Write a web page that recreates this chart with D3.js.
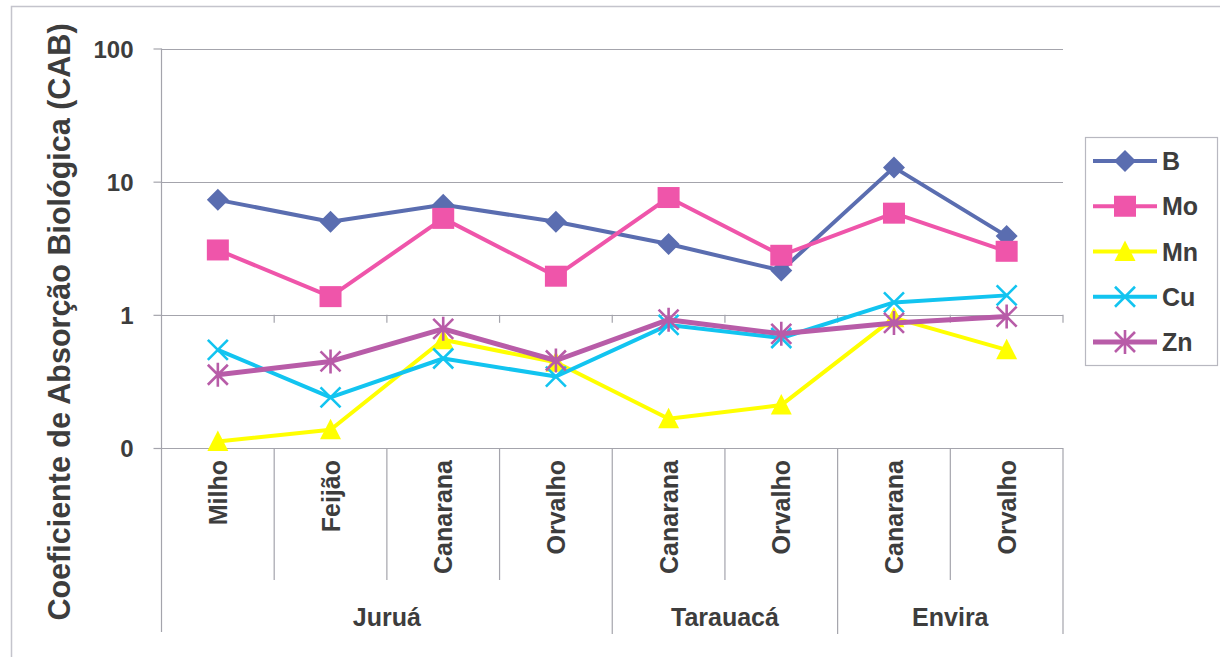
<!DOCTYPE html>
<html>
<head>
<meta charset="utf-8">
<script src="https://cdn.jsdelivr.net/npm/d3@7"></script>
<style>
  html, body { margin: 0; padding: 0; background: #fff; }
  svg { display: block; font-family: "Liberation Sans", Arial, sans-serif; }
</style>
</head>
<body>
<svg id="chart" width="1220" height="657"></svg>
<script>
// Categories (crop per site) and their site groups
const categories = ["Milho", "Feijão", "Canarana", "Orvalho", "Canarana", "Orvalho", "Canarana", "Orvalho"];
const groupNames = ["Juruá", "Tarauacá", "Envira"];
const groupSizes = [4, 2, 2];

// Biological absorption coefficient per element
const seriesNames = ["B", "Mo", "Mn", "Cu", "Zn"];
const valuesB  = [7.3, 5.0, 6.7, 5.0, 3.4, 2.15, 12.8, 3.9];
const valuesMo = [3.07, 1.37, 5.3, 1.95, 7.6, 2.8, 5.8, 3.0];
const valuesMn = [0.112, 0.137, 0.65, 0.44, 0.166, 0.21, 0.95, 0.546];
const valuesCu = [0.546, 0.24, 0.47, 0.344, 0.84, 0.67, 1.24, 1.4];
const valuesZn = [0.355, 0.447, 0.785, 0.454, 0.92, 0.72, 0.87, 0.97];

// Y axis ticks
const yTickValues = [0.1, 1, 10, 100];
const yTickLabels = ["0", "1", "10", "100"];

const seriesValues = [valuesB, valuesMo, valuesMn, valuesCu, valuesZn];
const colors = ["#5a6db0", "#ef55aa", "#ffff00", "#12c4f0", "#b85ca8"];
const markerKinds = ["diamond", "square", "triangle", "cross", "asterisk"];

const svg = d3.select("#chart");
const textColor = "#3d3d3d";
const gridColor = "#a4a4ac";

const plot = { left: 161.5, right: 1063, top: 48.5, bottom: 448 };

const x = d3.scaleBand()
  .domain(d3.range(categories.length))
  .range([plot.left, plot.right])
  .paddingInner(0).paddingOuter(0);

const y = d3.scaleLog()
  .domain([0.1, 100])
  .range([plot.bottom, plot.top]);

// outer chart frame
svg.append("rect")
  .attr("x", 11.5).attr("y", 6.5)
  .attr("width", 1240).attr("height", 700)
  .attr("fill", "none").attr("stroke", "#c4c4cc").attr("stroke-width", 1.5);

// horizontal gridlines + bottom edge
svg.append("g").selectAll("line")
  .data(yTickValues)
  .join("line")
  .attr("x1", plot.left).attr("x2", plot.right)
  .attr("y1", d => Math.round(y(d)) + 0.5).attr("y2", d => Math.round(y(d)) + 0.5)
  .attr("stroke", gridColor).attr("stroke-width", 1.2);

// y axis via d3.axisLeft
const yAxis = d3.axisLeft(y)
  .tickValues(yTickValues)
  .tickFormat((d, i) => yTickLabels[i])
  .tickSize(8)
  .tickPadding(20);

const gy = svg.append("g")
  .attr("transform", `translate(${plot.left},0)`)
  .call(yAxis);
gy.select(".domain").remove();
gy.selectAll(".tick line").attr("stroke", gridColor).attr("stroke-width", 1.2);
gy.selectAll(".tick text")
  .attr("fill", textColor)
  .style("font-size", "24px")
  .style("font-weight", "bold")
  .attr("dy", "0.36em");

// vertical axis line extending through the category label area
svg.append("line")
  .attr("x1", plot.left).attr("x2", plot.left)
  .attr("y1", plot.top).attr("y2", 632)
  .attr("stroke", gridColor).attr("stroke-width", 1.2);

// small tick marks on the axis crossing at 1
svg.append("g").selectAll("line")
  .data(d3.range(1, categories.length + 1))
  .join("line")
  .attr("x1", i => x.step() * i + plot.left).attr("x2", i => x.step() * i + plot.left)
  .attr("y1", y(1)).attr("y2", y(1) + 8)
  .attr("stroke", gridColor).attr("stroke-width", 1.2);

// category separators (multi-level axis)
const groupStarts = groupSizes.map((s, i) => d3.sum(groupSizes.slice(0, i)));
const groupBoundaries = new Set(groupStarts.concat([categories.length]));
svg.append("g").selectAll("line")
  .data(d3.range(1, categories.length + 1))
  .join("line")
  .attr("x1", i => plot.left + x.step() * i).attr("x2", i => plot.left + x.step() * i)
  .attr("y1", plot.bottom)
  .attr("y2", i => groupBoundaries.has(i) ? 634 : 580)
  .attr("stroke", gridColor).attr("stroke-width", 1.2);

// rotated crop labels
svg.append("g").selectAll("text")
  .data(categories)
  .join("text")
  .attr("transform", (d, i) => `translate(${x(i) + x.bandwidth() / 2 + 9},${460}) rotate(-90)`)
  .attr("text-anchor", "end")
  .attr("fill", textColor)
  .style("font-size", "25px")
  .style("font-weight", "bold")
  .text(d => d);

// site group labels
svg.append("g").selectAll("text")
  .data(groupNames)
  .join("text")
  .attr("x", (d, i) => {
    const a = x(groupStarts[i]);
    const b = x(groupStarts[i] + groupSizes[i] - 1) + x.bandwidth();
    return (a + b) / 2;
  })
  .attr("y", 626)
  .attr("text-anchor", "middle")
  .attr("fill", textColor)
  .style("font-size", "25px")
  .style("font-weight", "bold")
  .text(d => d);

// y axis title
svg.append("text")
  .attr("transform", `translate(70,322) rotate(-90)`)
  .attr("text-anchor", "middle")
  .attr("fill", textColor)
  .style("font-size", "30.5px")
  .style("font-weight", "bold")
  .text("Coeficiente de Absorção Biológica (CAB)");

// marker drawing
function drawMarker(sel, kind, color) {
  if (kind === "diamond") {
    sel.append("path").attr("d", "M0,-11L11,0L0,11L-11,0Z").attr("fill", color);
  } else if (kind === "square") {
    sel.append("rect").attr("x", -11).attr("y", -10.5).attr("width", 22).attr("height", 21).attr("fill", color);
  } else if (kind === "triangle") {
    sel.append("path").attr("d", "M0,-11L10.5,9.5L-10.5,9.5Z").attr("fill", color);
  } else if (kind === "cross") {
    sel.append("path").attr("d", "M-10,-10L10,10M-10,10L10,-10")
      .attr("stroke", color).attr("stroke-width", 2.6).attr("fill", "none");
  } else if (kind === "asterisk") {
    sel.append("path").attr("d", "M-10,-10L10,10M-10,10L10,-10M0,-12L0,12")
      .attr("stroke", color).attr("stroke-width", 2.6).attr("fill", "none");
  }
}

const line = d3.line()
  .x((d, i) => x(i) + x.bandwidth() / 2)
  .y(d => y(d));

seriesValues.forEach((vals, s) => {
  const g = svg.append("g");
  g.append("path")
    .datum(vals)
    .attr("d", line)
    .attr("fill", "none")
    .attr("stroke", colors[s])
    .attr("stroke-width", s === 4 ? 5 : 4)
    .attr("stroke-linejoin", "round");
  g.selectAll("g.pt")
    .data(vals)
    .join("g")
    .attr("class", "pt")
    .attr("transform", (d, i) => `translate(${x(i) + x.bandwidth() / 2},${y(d)})`)
    .each(function () { drawMarker(d3.select(this), markerKinds[s], colors[s]); });
});

// legend
const legend = svg.append("g");
legend.append("rect")
  .attr("x", 1085.5).attr("y", 137.5).attr("width", 132).attr("height", 228)
  .attr("fill", "#fff").attr("stroke", "#b8b8c0").attr("stroke-width", 1.2);
const legendY = d3.scalePoint().domain(seriesNames).range([161, 342]);
seriesNames.forEach((name, s) => {
  const cy = legendY(name);
  legend.append("line")
    .attr("x1", 1093).attr("x2", 1157).attr("y1", cy).attr("y2", cy)
    .attr("stroke", colors[s]).attr("stroke-width", s === 4 ? 5 : 4);
  const m = legend.append("g").attr("transform", `translate(1125,${cy})`);
  drawMarker(m, markerKinds[s], colors[s]);
  legend.append("text")
    .attr("x", 1162).attr("y", cy).attr("dy", "0.36em")
    .attr("fill", textColor)
    .style("font-size", "25px").style("font-weight", "bold")
    .text(name);
});
</script>
</body>
</html>
